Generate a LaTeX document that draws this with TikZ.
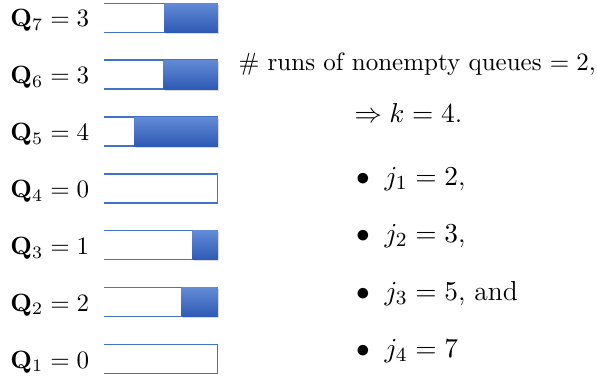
\documentclass[tikz,border=0pt]{standalone}
\usetikzlibrary{shadows}
\definecolor{qline}{RGB}{68,114,196}
\definecolor{qtop}{RGB}{98,138,214}
\definecolor{qbot}{RGB}{46,90,180}
\begin{document}
\begin{tikzpicture}[x=0.4pt,y=-0.4pt,
lbl/.style={anchor=base west,inner sep=0pt},
big/.style={lbl,font=\fontsize{11}{13}\selectfont},
slot/.style={draw=qline,line width=0.5pt},
load/.style={top color=qtop,bottom color=qbot,
drop shadow={opacity=0.3,shadow xshift=0.6pt,shadow yshift=-0.6pt}}]
\useasboundingbox (0,0) rectangle (597,382);
% queues, top to bottom
\foreach \i/\n in {7/3,6/3,5/4,4/0,3/1,2/2,1/0}{
\pgfmathsetmacro\yc{17.7+56.9*(7-\i)}
\node[lbl] (q\i) at (10,\yc+9) {$\mathbf{Q}_{\i} = \n$};
\draw[slot] (104,\yc-14.5)--(217.5,\yc-14.5)--(217.5,\yc+14.5)--(104,\yc+14.5);
}
\foreach \i/\f in {7/164.5,6/163.5,5/134,3/192.7,2/181.7}{
\pgfmathsetmacro\yc{17.7+56.9*(7-\i)}
\path[load] (\f,\yc-14.5) rectangle (217.5,\yc+14.5);
}
% right-hand text
\node[lbl] (runs) at (238,70) {\# runs of nonempty queues $= 2$,};
\node[big] (kval) at (354,122) {$\Rightarrow k = 4$.};
\foreach \j/\v/\t/\y in {1/2/{,}/185,2/3/{,}/242,3/5/{, and}/300,4/7/{}/357}
\node[big] (j\j) at (355.5,\y) {$\bullet$\hspace{6pt}$j_{\j} = \v$\t};
\end{tikzpicture}
\end{document}
